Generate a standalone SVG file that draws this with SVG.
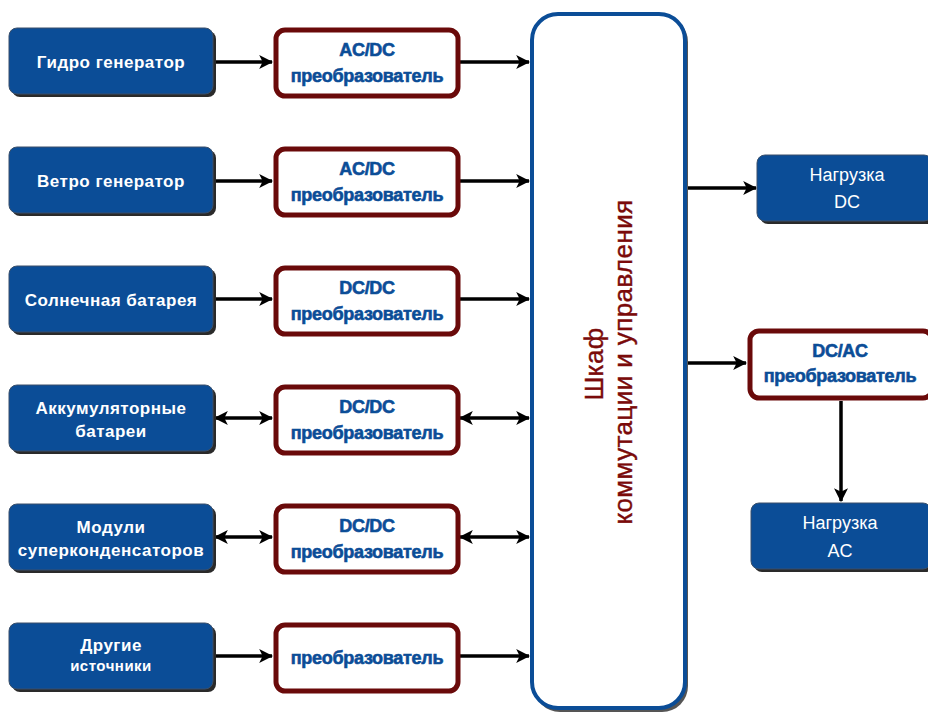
<svg xmlns="http://www.w3.org/2000/svg" width="928" height="713" viewBox="0 0 928 713">
<defs>
<marker id="ah" viewBox="0 0 12 12" refX="11" refY="6" markerWidth="14" markerHeight="14" markerUnits="userSpaceOnUse" orient="auto-start-reverse">
<path d="M0,0 L12,6 L0,12 L3,6 Z" fill="#000"/>
</marker>
</defs>
<style>
.src{fill:#0b4d97;stroke:#3a4f6a;stroke-width:1}
.sh{fill:#2a2a2a}
.conv{fill:#fff;stroke:#6a0a0a;stroke-width:5}
.st{font-family:"Liberation Sans",Arial,sans-serif;font-weight:bold;font-size:17px;fill:#fff;text-anchor:middle;letter-spacing:0.5px}
.lt{font-family:"Liberation Sans",Arial,sans-serif;font-size:18px;fill:#fff;text-anchor:middle}
.ct{font-family:"Liberation Sans",Arial,sans-serif;font-weight:bold;font-size:18px;fill:#0b4d97;stroke:#0b4d97;stroke-width:0.6;text-anchor:middle;letter-spacing:-0.3px}
.cab{font-family:"Liberation Sans",Arial,sans-serif;font-size:26px;fill:#7a0a0a;stroke:#7a0a0a;stroke-width:0.4;text-anchor:middle;letter-spacing:0.4px}
.ln{stroke:#000;stroke-width:3.5;fill:none}
</style>
<g id="connectors">
<line class="ln" x1="214" y1="62" x2="272" y2="62" marker-end="url(#ah)"/>
<line class="ln" x1="459" y1="62" x2="529" y2="62" marker-end="url(#ah)"/>
<line class="ln" x1="214" y1="181" x2="272" y2="181" marker-end="url(#ah)"/>
<line class="ln" x1="459" y1="181" x2="529" y2="181" marker-end="url(#ah)"/>
<line class="ln" x1="214" y1="299" x2="272" y2="299" marker-end="url(#ah)"/>
<line class="ln" x1="459" y1="299" x2="529" y2="299" marker-end="url(#ah)"/>
<line class="ln" x1="215" y1="418" x2="272" y2="418" marker-start="url(#ah)" marker-end="url(#ah)"/>
<line class="ln" x1="460" y1="418" x2="529" y2="418" marker-start="url(#ah)" marker-end="url(#ah)"/>
<line class="ln" x1="215" y1="537" x2="272" y2="537" marker-start="url(#ah)" marker-end="url(#ah)"/>
<line class="ln" x1="460" y1="537" x2="529" y2="537" marker-start="url(#ah)" marker-end="url(#ah)"/>
<line class="ln" x1="214" y1="656" x2="272" y2="656" marker-end="url(#ah)"/>
<line class="ln" x1="459" y1="656" x2="529" y2="656" marker-end="url(#ah)"/>
<line class="ln" x1="686" y1="188" x2="756" y2="188" marker-end="url(#ah)"/>
<line class="ln" x1="686" y1="363" x2="746" y2="363" marker-end="url(#ah)"/>
<line class="ln" x1="841" y1="401" x2="841" y2="501" marker-end="url(#ah)"/>
</g>
<g id="cabinet">
<rect x="534" y="16" width="154" height="696" rx="26" fill="#555"/>
<rect x="532" y="14" width="153" height="694" rx="26" fill="#fff" stroke="#0b4d97" stroke-width="4"/>
<text class="cab" transform="translate(603,364) rotate(-90)">Шкаф</text>
<text class="cab" transform="translate(632,362) rotate(-90)">коммутации и управления</text>
</g>
<g id="src1"><rect class="sh" x="12" y="31" width="204" height="66" rx="8"/><rect class="src" x="9" y="28" width="204" height="66" rx="8"/><text class="st" x="111" y="68">Гидро генератор</text></g>
<g id="src2"><rect class="sh" x="12" y="150" width="204" height="66" rx="8"/><rect class="src" x="9" y="147" width="204" height="66" rx="8"/><text class="st" x="111" y="187">Ветро генератор</text></g>
<g id="src3"><rect class="sh" x="12" y="269" width="204" height="66" rx="8"/><rect class="src" x="9" y="266" width="204" height="66" rx="8"/><text class="st" x="111" y="306">Солнечная батарея</text></g>
<g id="src4"><rect class="sh" x="12" y="388" width="204" height="66" rx="8"/><rect class="src" x="9" y="385" width="204" height="66" rx="8"/><text class="st" x="111" y="414">Аккумуляторные</text><text class="st" x="111" y="437">батареи</text></g>
<g id="src5"><rect class="sh" x="12" y="507" width="204" height="66" rx="8"/><rect class="src" x="9" y="504" width="204" height="66" rx="8"/><text class="st" x="111" y="533">Модули</text><text class="st" x="111" y="556">суперконденсаторов</text></g>
<g id="src6"><rect class="sh" x="12" y="626" width="204" height="66" rx="8"/><rect class="src" x="9" y="623" width="204" height="66" rx="8"/><text class="st" x="111" y="651">Другие</text><text class="st" x="111" y="671" style="font-size:15px">источники</text></g>
<g id="conv1"><rect class="conv" x="276" y="30" width="182" height="66" rx="9"/><text class="ct" x="367" y="56">AC/DC</text><text class="ct" x="367" y="82">преобразователь</text></g>
<g id="conv2"><rect class="conv" x="276" y="149" width="182" height="66" rx="9"/><text class="ct" x="367" y="175">AC/DC</text><text class="ct" x="367" y="201">преобразователь</text></g>
<g id="conv3"><rect class="conv" x="276" y="268" width="182" height="66" rx="9"/><text class="ct" x="367" y="294">DC/DC</text><text class="ct" x="367" y="320">преобразователь</text></g>
<g id="conv4"><rect class="conv" x="276" y="387" width="182" height="66" rx="9"/><text class="ct" x="367" y="413">DC/DC</text><text class="ct" x="367" y="439">преобразователь</text></g>
<g id="conv5"><rect class="conv" x="276" y="506" width="182" height="66" rx="9"/><text class="ct" x="367" y="532">DC/DC</text><text class="ct" x="367" y="558">преобразователь</text></g>
<g id="conv6"><rect class="conv" x="276" y="625" width="182" height="66" rx="9"/><text class="ct" x="367" y="664">преобразователь</text></g>
<g id="loadDC"><rect class="sh" x="760" y="158" width="175" height="66" rx="8"/><rect class="src" x="757" y="155" width="175" height="66" rx="8"/><text class="lt" x="847" y="181">Нагрузка</text><text class="lt" x="847" y="208">DC</text></g>
<g id="convDCAC"><rect class="conv" x="750" y="331" width="182" height="67" rx="9"/><text class="ct" x="840" y="357">DC/AC</text><text class="ct" x="840" y="382">преобразователь</text></g>
<g id="loadAC"><rect class="sh" x="754" y="506" width="180" height="66" rx="8"/><rect class="src" x="751" y="503" width="180" height="66" rx="8"/><text class="lt" x="840" y="529">Нагрузка</text><text class="lt" x="840" y="557">AC</text></g>
</svg>
